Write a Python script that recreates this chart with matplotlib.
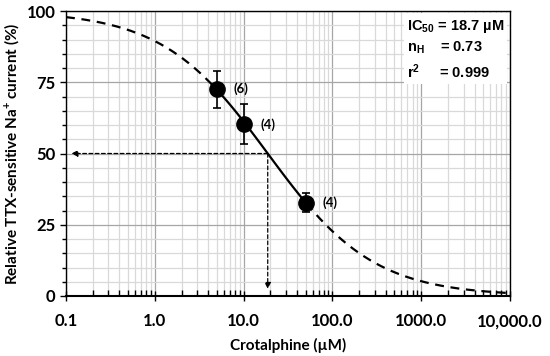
import numpy as np
import matplotlib
matplotlib.use("Agg")
import matplotlib.pyplot as plt
from matplotlib.ticker import FixedLocator, NullFormatter

plt.rcParams["mathtext.fontset"] = "custom"
plt.rcParams["mathtext.bf"] = "Liberation Sans:bold"
plt.rcParams["mathtext.rm"] = "Liberation Sans:bold"
plt.rcParams["mathtext.default"] = "bf"

# Data
conc = [5.0, 10.0, 50.0]
resp = [72.6, 60.2, 32.8]
err = [6.5, 7.0, 3.5]
n_labels = ["(6)", "(4)", "(4)"]
ic50 = 18.7
n_hill = 0.73
r2 = 0.999
x_ticks = [0.1, 1, 10, 100, 1000, 10000]
x_ticklabels = ["0.1", "1.0", "10.0", "100.0", "1000.0", "10,000.0"]
y_ticks = [0, 25, 50, 75, 100]

def hill(x):
    return 100.0 / (1.0 + (np.asarray(x) / ic50) ** n_hill)

fig = plt.figure(figsize=(5.5, 3.56), dpi=100)
ax = fig.add_axes([66/550, 1-296/356, (510-66)/550, (296-11)/356])
ax.set_xscale("log")
ax.set_xlim(0.1, 10000)
ax.set_ylim(0, 100)

# grid
ax.set_xticks(x_ticks)
ax.xaxis.set_minor_locator(FixedLocator([m * 10.0**e for e in range(-1, 4) for m in range(2, 10)]))
ax.xaxis.set_minor_formatter(NullFormatter())
ax.set_yticks(y_ticks)
ax.yaxis.set_minor_locator(FixedLocator([v for v in range(5, 100, 5) if v % 25]))
ax.grid(which="major", color="#a6a6a6", lw=0.9, zorder=0)
ax.grid(which="minor", color="#d9d9d9", lw=0.9, zorder=0)
ax.set_axisbelow(True)

# fitted curve
xs_all = np.logspace(-1, 4, 400)
x_lo = xs_all[xs_all <= conc[0]]
x_mid = np.logspace(np.log10(conc[0]), np.log10(conc[-1]), 100)
x_hi = xs_all[xs_all >= conc[-1]]
ax.plot(x_lo, hill(x_lo), color="black", lw=1.6, ls=(0, (4, 3)), zorder=3)
ax.plot(x_hi, hill(x_hi), color="black", lw=1.6, ls=(0, (4, 3)), zorder=3)
ax.plot(x_mid, hill(x_mid), color="black", lw=1.6, zorder=3)

# data points
ax.errorbar(conc, resp, yerr=err, fmt="o", color="black", ms=11, capsize=3,
            elinewidth=1.2, capthick=1.2, zorder=5)
for x, y, t in zip(conc, resp, n_labels):
    ax.annotate(t, (x, y), xytext=(12, 0), textcoords="offset points",
                va="center", ha="left", fontsize=9.5, fontweight="bold",
                family="Lato", zorder=6)

# IC50 dashed arrows
ax.annotate("", xy=(0.115, 50), xytext=(ic50, 50),
            arrowprops=dict(arrowstyle="-|>", ls=(0, (3, 2)), lw=0.9, color="black",
                            mutation_scale=9, shrinkA=0, shrinkB=0), zorder=4)
ax.annotate("", xy=(ic50, 2.5), xytext=(ic50, 50),
            arrowprops=dict(arrowstyle="-|>", ls=(0, (3, 2)), lw=0.9, color="black",
                            mutation_scale=9, shrinkA=0, shrinkB=0), zorder=4)

# stats text box
ax.text(0.768, 0.975,
        "IC$_{50}$ = %.1f µM\nn$_{H}$    = %.2f\nr$^{2}$     = %.3f" % (ic50, n_hill, r2),
        transform=ax.transAxes, ha="left", va="top", fontsize=10.5, fontweight="bold",
        family="Liberation Sans", linespacing=1.4,
        bbox=dict(facecolor="white", edgecolor="none", pad=2), zorder=6)

# ticks
ax.set_xticklabels(x_ticklabels)
ax.tick_params(axis="x", which="major", direction="inout", length=7, width=1, pad=9)
ax.tick_params(axis="x", which="minor", direction="in", length=4, width=1)
ax.tick_params(axis="y", which="major", direction="out", length=4, width=1)
ax.tick_params(axis="y", which="minor", direction="out", length=3, width=1)
for lab in ax.get_xticklabels():
    lab.set_family("Lato")
    lab.set_fontweight("bold")
    lab.set_fontsize(12)
for lab in ax.get_yticklabels():
    lab.set_family("Lato")
    lab.set_fontweight("bold")
    lab.set_fontsize(12)

for s in ax.spines.values():
    s.set_color("black")
    s.set_linewidth(1.0)
ax.spines["bottom"].set_linewidth(1.5)

ax.set_xlabel("Crotalphine (µM)", family="Lato", fontweight="bold", fontsize=11, labelpad=6)
ax.set_ylabel("Relative TTX-sensitive Na$^{+}$ current (%)", family="Lato",
              fontweight="bold", fontsize=11, labelpad=4)

fig.savefig("out.png", dpi=100)
